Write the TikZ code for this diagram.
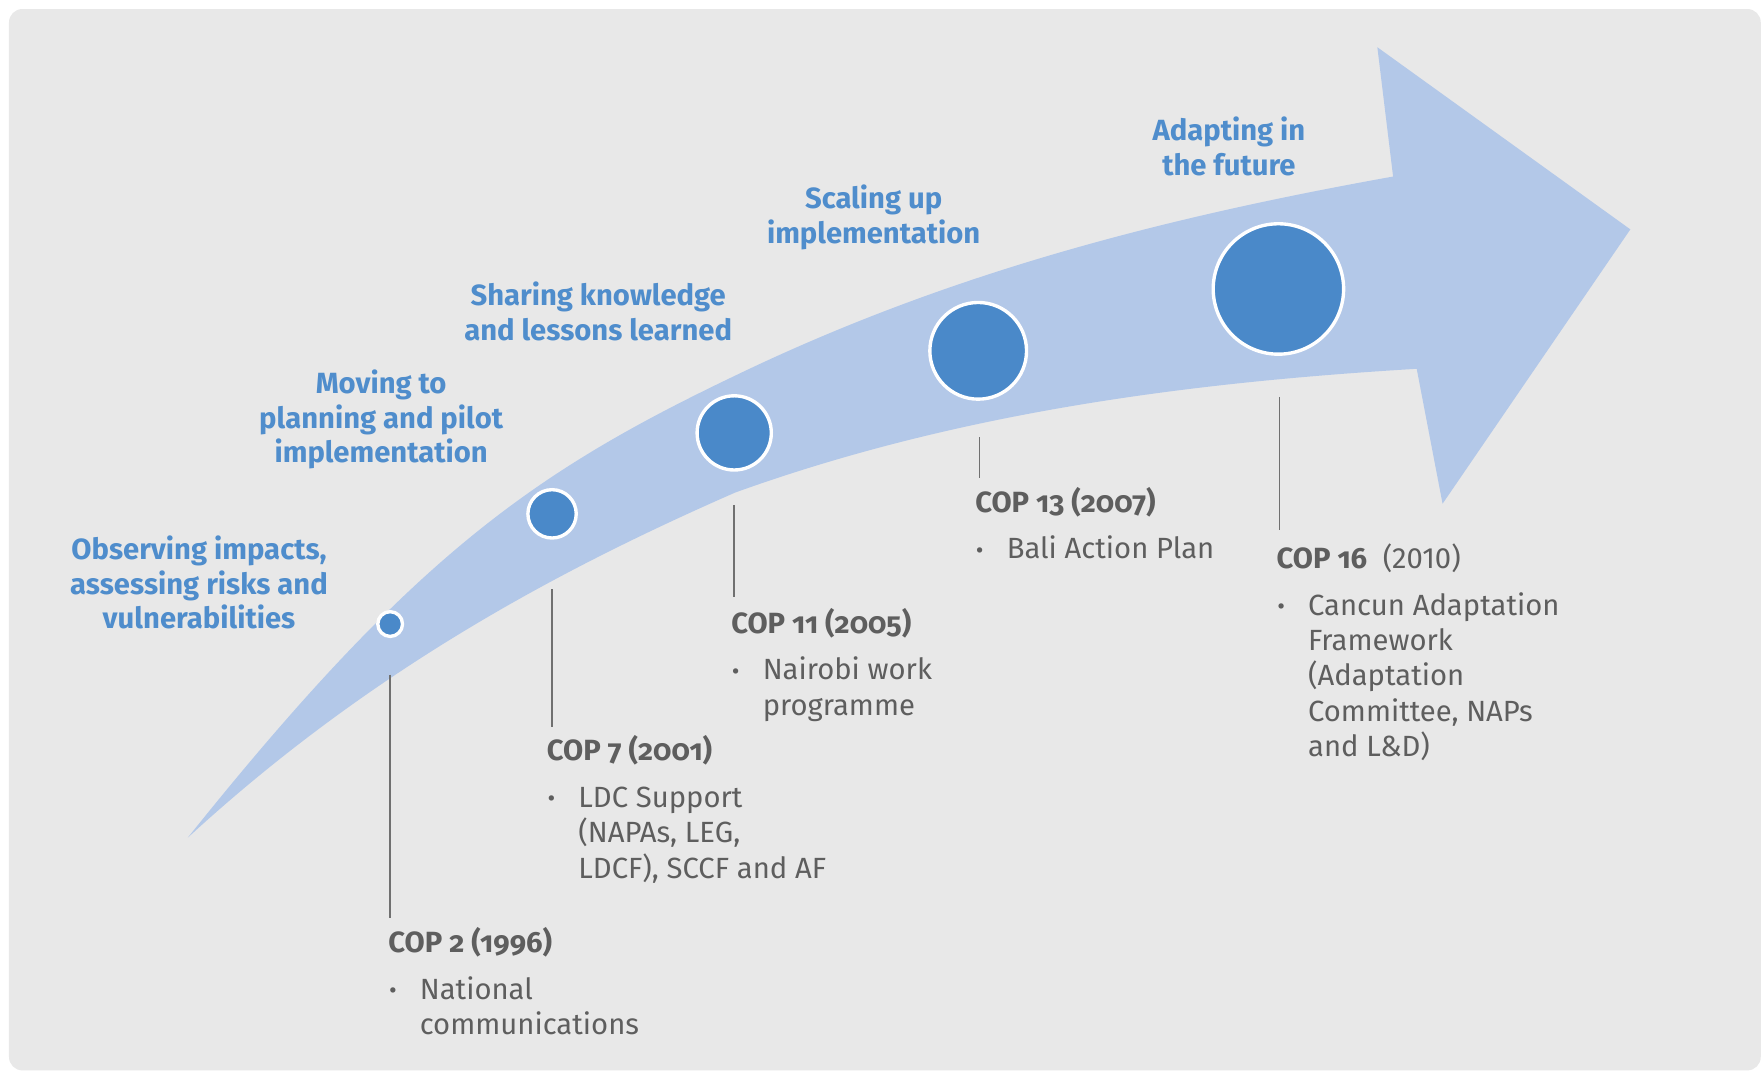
\documentclass[tikz,border=0pt]{standalone}
\usepackage{fontspec}
\setmainfont{Fira Sans}
\newfontfamily\osffont{Fira Sans}[Numbers=OldStyle]
\newfontfamily\headfont{Fira Sans}
\newcommand\cpbullet{\makebox[14pt][l]{\hspace{0.3pt}\raisebox{0.2pt}{\fontsize{10.5}{10}\selectfont\textbullet}}}
\newcommand\cpind{\hspace*{14pt}}
\definecolor{bgpanel}{HTML}{E8E8E8}
\definecolor{arrowblue}{HTML}{B3C8E8}
\definecolor{dotblue}{HTML}{4A89C9}
\definecolor{headblue}{HTML}{4F8DCC}
\definecolor{txtgray}{HTML}{5E5E5E}
\definecolor{linegray}{HTML}{707070}
\begin{document}
\begin{tikzpicture}[x=0.5pt,y=-0.5pt,
  headlbl/.style={font=\headfont\bfseries\fontsize{13}{15.5}\selectfont, text=headblue, align=center, inner sep=0pt},
  coplbl/.style={font=\fontsize{13}{15.75}\selectfont, text=txtgray, align=left, inner sep=0pt, anchor=base west},
  dot/.style={circle, fill=dotblue, draw=white, line width=1.5pt, inner sep=0pt},
  conn/.style={draw=linegray, line width=0.7pt}]
\useasboundingbox (0,0) rectangle (1568,955);
\fill[white] (0,0) rectangle (1568,955);
\fill[bgpanel, rounded corners=6pt] (8,8) rectangle (1566,952);

% arrow
\fill[arrowblue] (167,745)
  .. controls (367,495) and (474,420) .. (654,334)
  .. controls (849,240) and (1044,192) .. (1239,157)
  -- (1225,42) -- (1450,204) -- (1283,448) -- (1260,328)
  .. controls (1060,340) and (854,366) .. (654,438)
  .. controls (494,508) and (327,598) .. (167,745) -- cycle;

% circles
\node[dot, minimum size=11pt] (c1) at (347,555) {};
\node[dot, minimum size=21.5pt] (c2) at (491,457) {};
\node[dot, minimum size=33pt] (c3) at (653,385) {};
\node[dot, minimum size=43pt] (c4) at (870,312) {};
\node[dot, minimum size=58pt] (c5) at (1137,257) {};

% headings
\node[headlbl] (h1) at (177,518) {Observing impacts,\\assessing risks and\\vulnerabilities};
\node[headlbl] (h2) at (339,373) {Moving to\\planning and pilot\\implementation};
\node[headlbl] (h3) at (532,277) {Sharing knowledge\\and lessons learned};
\node[headlbl] (h4) at (777,193) {Scaling up\\implementation};
\node[headlbl] (h5) at (1093,130) {Adapting in\\the future};

% COP texts (base = last line baseline)
\node[coplbl] (cop2) at (345,920) {{\bfseries\osffont COP 2 (1996)}\\[5pt]
  \cpbullet National\\\cpind communications};
\node[coplbl] (cop7) at (486,781) {{\bfseries\osffont COP 7 (2001)}\\[5pt]
  \cpbullet LDC Support\\\cpind (NAPAs, LEG,\\\cpind LDCF), SCCF and AF};
\node[coplbl] (cop11) at (650,636) {{\bfseries\osffont COP 11 (2005)}\\[5pt]
  \cpbullet Nairobi work\\\cpind programme};
\node[coplbl] (cop13) at (867,497) {{\bfseries\osffont COP 13 (2007)}\\[5pt]
  \cpbullet Bali Action Plan};
\node[coplbl] (cop16) at (1135,673) {{\bfseries\osffont COP 16}\ \ (2010)\\[5pt]
  \cpbullet Cancun Adaptation\\\cpind Framework\\\cpind (Adaptation\\\cpind Committee, NAPs\\\cpind and L\&D)};

% connectors
\coordinate (t1) at (347,600); \coordinate (b1) at (347,816);
\coordinate (t2) at (491,524); \coordinate (b2) at (491,647);
\coordinate (t3) at (653,449); \coordinate (b3) at (653,531);
\coordinate (t4) at (871,389); \coordinate (b4) at (871,425);
\coordinate (t5) at (1138,353); \coordinate (b5) at (1138,471);
\draw[conn] (t1) -- (b1);
\draw[conn] (t2) -- (b2);
\draw[conn] (t3) -- (b3);
\draw[conn] (t4) -- (b4);
\draw[conn] (t5) -- (b5);
\end{tikzpicture}
\end{document}
